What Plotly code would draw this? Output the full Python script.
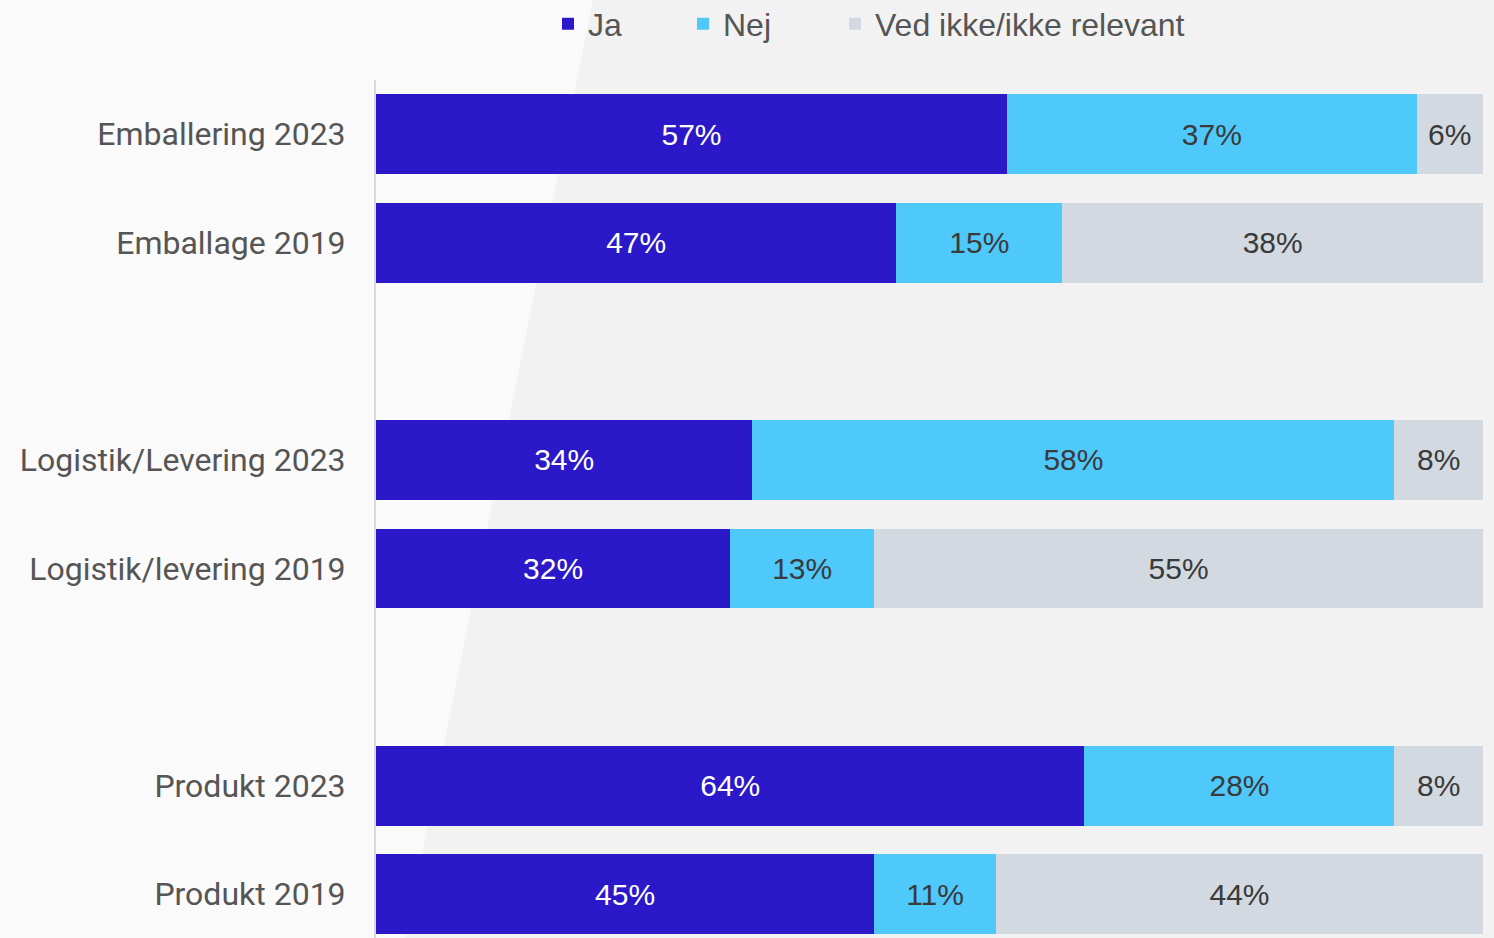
import plotly.graph_objects as go

categories = ["Emballering 2023", "Emballage 2019", " ", "Logistik/Levering 2023",
              "Logistik/levering 2019", "  ", "Produkt 2023", "Produkt 2019"]
bar_categories = ["Emballering 2023", "Emballage 2019", "Logistik/Levering 2023",
                  "Logistik/levering 2019", "Produkt 2023", "Produkt 2019"]
ja = [57, 47, 34, 32, 64, 45]
nej = [37, 15, 58, 13, 28, 11]
ved = [6, 38, 8, 55, 8, 44]
series_names = ["Ja", "Nej", "Ved ikke/ikke relevant"]
colors = ["#2B19C9", "#4FC8FA", "#D3D9E1"]
text_colors = ["#FFFFFF", "#3A3A3A", "#3A3A3A"]

W, H = 1494, 938
ML, MR, MT, MB = 376, 11, 80, 0
PW, PH = W - ML - MR, H - MT - MB


def px_x(x):
    return (x - ML) / PW


def px_y(y):
    return 1 - (y - MT) / PH


legend_px = [548, 683, 835]

fig = go.Figure()
for i, (name, vals) in enumerate(zip(series_names, [ja, nej, ved])):
    fig.add_trace(go.Bar(
        y=bar_categories, x=vals, name=name, orientation="h",
        marker=dict(color=colors[i], line=dict(width=0)),
        text=[f"{v}%" for v in vals], textposition="inside",
        insidetextanchor="middle", textangle=0,
        textfont=dict(family="Liberation Sans, Arial, sans-serif", size=30, color=text_colors[i]),
        legend="legend" if i == 0 else f"legend{i+1}",
        hoverinfo="skip",
    ))

legend_font = dict(family="Liberation Sans, Arial, sans-serif", size=32, color="#555555")
legend_common = dict(orientation="h", yanchor="middle", y=px_y(24), xanchor="left",
                     bgcolor="rgba(0,0,0,0)", font=legend_font, borderwidth=0)


def diag(y):
    return 593 - 0.2 * y


fig.update_layout(
    width=W, height=H,
    paper_bgcolor="#FAFAFA", plot_bgcolor="rgba(0,0,0,0)",
    barmode="stack", bargap=0.266,
    margin=dict(l=ML, r=MR, t=MT, b=MB, autoexpand=False),
    showlegend=True,
    legend=dict(x=px_x(legend_px[0]), **legend_common),
    legend2=dict(x=px_x(legend_px[1]), **legend_common),
    legend3=dict(x=px_x(legend_px[2]), **legend_common),
    xaxis=dict(range=[0, 100], showgrid=False, zeroline=False, showticklabels=False,
               showline=False, fixedrange=True),
    yaxis=dict(categoryorder="array", categoryarray=categories, type="category",
               range=[7.403, -0.5], showgrid=False, zeroline=False,
               showline=True, linecolor="#DADADA", linewidth=2,
               ticks="", ticklabelstandoff=22,
               tickfont=dict(family="Roboto, Liberation Sans, sans-serif", size=32, color="#555555")),
    shapes=[dict(type="path", xref="paper", yref="paper", layer="below",
                 path="M {:.4f} {:.4f} L {:.4f} {:.4f} L {:.4f} {:.4f} L {:.4f} {:.4f} Z".format(
                     px_x(diag(-2)), px_y(-2), px_x(W + 2), px_y(-2),
                     px_x(W + 2), px_y(H + 2), px_x(diag(H + 2)), px_y(H + 2)),
                 fillcolor="#F2F2F2", line=dict(width=0))],
)

fig.write_html("out.html", config={"displayModeBar": False},
               post_script="document.body.style.margin='0';document.body.style.overflow='hidden';")
